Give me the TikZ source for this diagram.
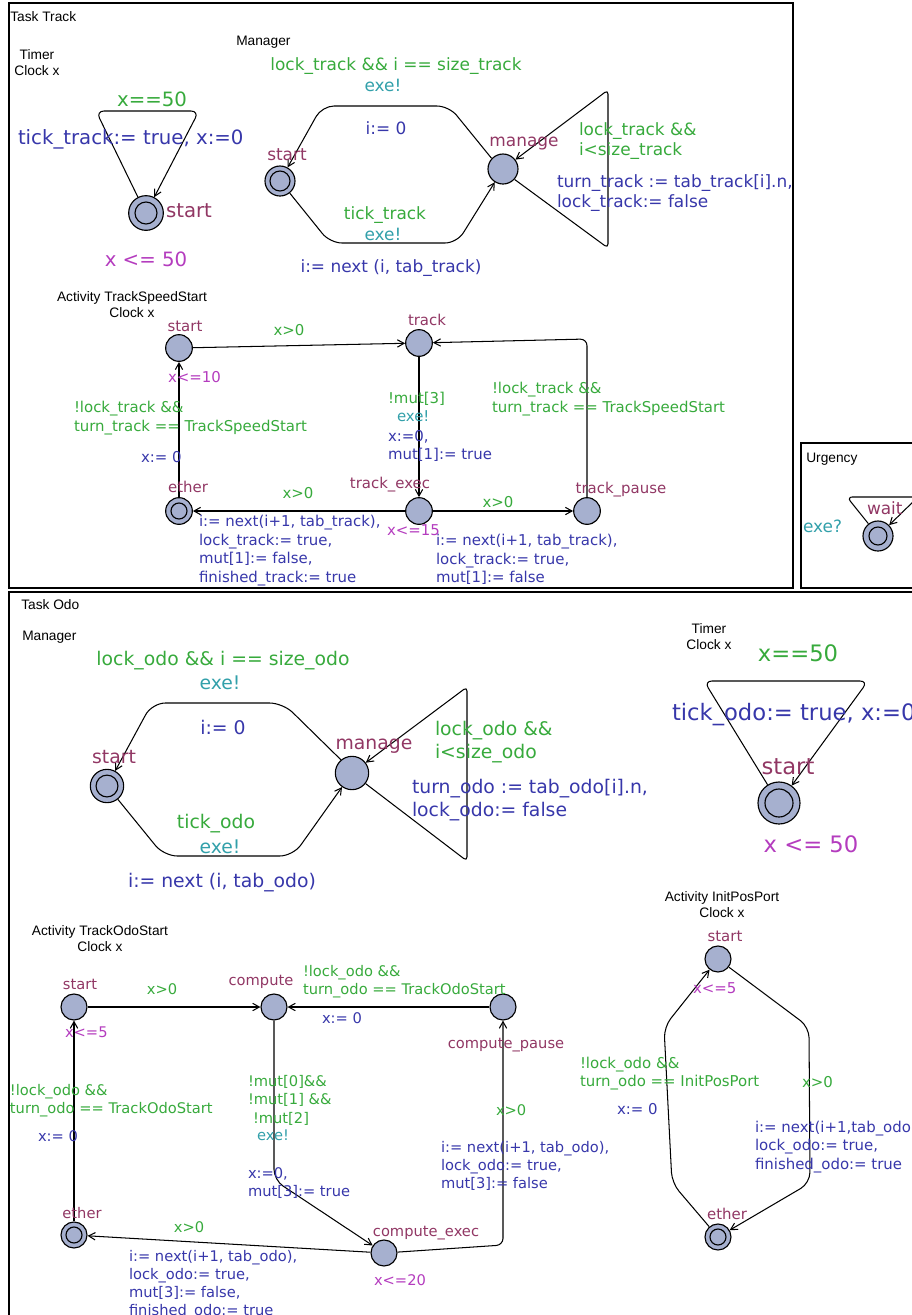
\documentclass[tikz,border=0pt]{standalone}
\usepackage{fontspec}
\setmainfont{DejaVu Sans}
\newfontfamily\tfont{Liberation Sans}
\usetikzlibrary{arrows.meta}
\definecolor{cloc}{RGB}{145,55,100}
\definecolor{cguard}{RGB}{55,170,60}
\definecolor{csync}{RGB}{50,160,170}
\definecolor{cupd}{RGB}{55,55,170}
\definecolor{cinv}{RGB}{180,60,190}
\definecolor{cnode}{RGB}{166,176,207}
\begin{document}
\begin{tikzpicture}[x=0.75pt,y=-0.75pt,
  frame/.style={draw=black, line width=1.4pt},
  ttl/.style={font=\tfont\fontsize{10.3}{12}\selectfont, inner sep=0pt, align=center},
  loc/.style={circle, draw=black, fill=cnode, line width=0.85pt, inner sep=0pt, minimum size=#1},
  inner/.style={draw=black, line width=0.85pt},
  conn/.style={draw=black, line width=0.78pt, -{Straight Barb[length=5pt,width=5.5pt]}},
  lbl/.style={inner sep=0pt, outer sep=0pt},
  nw/.style={lbl, anchor=north west, align=left},
  nc/.style={lbl, anchor=north, align=center},
  gd/.style={text=cguard}, sy/.style={text=csync}, up/.style={text=cupd},
  iv/.style={text=cinv}, ln/.style={text=cloc},
  fTT/.style={font=\fontsize{14.8}{18}\selectfont, yshift=5.9pt},
  fMT/.style={font=\fontsize{12.7}{15.5}\selectfont, yshift=5.1pt},
  fAT/.style={font=\fontsize{11.2}{14}\selectfont, yshift=4.5pt},
  fUR/.style={font=\fontsize{12.7}{15}\selectfont, yshift=5.1pt},
  fMO/.style={font=\fontsize{14.1}{17.25}\selectfont, yshift=5.6pt},
  fTO/.style={font=\fontsize{17}{20}\selectfont, yshift=6.8pt},
  fAO/.style={font=\fontsize{11}{13.6}\selectfont, yshift=4.4pt},
  fIP/.style={font=\fontsize{11.2}{13.9}\selectfont, yshift=4.5pt}
]
\useasboundingbox (0,0) rectangle (912,1315);
\clip (0,0) rectangle (912,1315);

% ---------- frames ----------
\draw[frame] (9,3) rectangle (793,588);
\draw[frame] (801,443) rectangle (930,588);
\draw[frame] (9,592) rectangle (930,1330);

% ---------- titles ----------
\node[ttl, anchor=west] (tTrack) at (10,17) {Task Track};
\node[ttl] (tTimer1) at (37,63) {Timer\\Clock x};
\node[ttl, anchor=west] (tMan1) at (236,42) {Manager};
\node[ttl] (tAct1) at (132,305) {Activity TrackSpeedStart\\Clock x};
\node[ttl, anchor=west] (tUrg) at (806,459) {Urgency};
\node[ttl, anchor=west] (tOdo) at (21,605) {Task Odo};
\node[ttl, anchor=west] (tMan2) at (22,637) {Manager};
\node[ttl] (tTimer2) at (709,637) {Timer\\Clock x};
\node[ttl] (tAct2) at (100,939) {Activity TrackOdoStart\\Clock x};
\node[ttl] (tAct3) at (722,905) {Activity InitPosPort\\Clock x};

% ---------- Task Track : Timer ----------
\node[loc=26pt] (tts) at (146,213) {};
\draw[inner] (tts.center) circle[radius=8.25pt];
\draw[conn, rounded corners=6pt] (tts.117) -- (96,111) -- (199,111) -- (tts);
\node[nc, fTT, gd] (ttg) at (152,100) {x==50};
\node[nw, fTT, up] (ttu) at (18,137) {tick\_track:= true, x:=0};
\node[nw, fTT, ln] (ttn) at (166,212) {start};
\node[nc, fTT, iv] (tti) at (146,260) {x <= 50};

% ---------- Task Track : Manager ----------
\node[loc=22.5pt] (mts) at (280,181) {};
\draw[inner] (mts.center) circle[radius=7.5pt];
\node[loc=22.5pt] (mtm) at (503,169) {};
\draw[conn, rounded corners=9pt] (mtm.137) -- (449,106) -- (322,106) -- (mts);
\draw[conn, rounded corners=9pt] (mts) -- (330,243) -- (457,243) -- (mtm);
\draw[conn, rounded corners=3pt] (mtm.-42) -- (608,248) -- (608,90) -- (mtm);
\node[nc, fMT, gd] (mtg1) at (396,64) {lock\_track \&\& i == size\_track};
\node[nc, fMT, sy] (mts1) at (383,86) {exe!};
\node[nc, fMT, up] (mtu1) at (386,128) {i:= 0};
\node[nc, fMT, ln] (mtn1) at (287,155) {start};
\node[nc, fMT, ln] (mtn2) at (524,144) {manage};
\node[nc, fMT, gd] (mtg2) at (385,213) {tick\_track};
\node[nc, fMT, sy] (mts2) at (383,235) {exe!};
\node[nc, fMT, up] (mtu2) at (391,266) {i:= next (i, tab\_track)};
\node[nw, fMT, gd] (mtg3) at (579,129) {lock\_track \&\&\\i<size\_track};
\node[nw, fMT, up] (mtu3) at (557,181) {turn\_track := tab\_track[i].n,\\lock\_track:= false};

% ---------- Task Track : Activity TrackSpeedStart ----------
\node[loc=20pt] (as) at (179,348) {};
\node[loc=20pt] (at) at (419,343) {};
\node[loc=20pt] (ax) at (419,511) {};
\node[loc=20pt] (ap) at (587,511) {};
\node[loc=20pt] (ae) at (179,511) {};
\draw[inner] (ae.center) circle[radius=6pt];
\draw[conn] (as) -- (at);
\draw[conn] (at) -- (ax);
\draw[conn] (ax) -- (ap);
\draw[conn, rounded corners=5pt] (ap) -- (587,339) -- (at);
\draw[conn] (ax) -- (ae);
\draw[conn] (ae) -- (as);
\node[nc, fAT, ln] (an1) at (185,327) {start};
\node[nc, fAT, ln] (an2) at (427,320) {track};
\node[nc, fAT, ln] (an3) at (188,487) {ether};
\node[nc, fAT, ln] (an4) at (390,483) {track\_exec};
\node[nc, fAT, ln] (an5) at (621,488) {track\_pause};
\node[nc, fAT, gd] (ag1) at (289,330) {x>0};
\node[nw, fAT, gd] (ag2) at (388,398) {!mut[3]};
\node[nw, fAT, sy] (as2) at (397,417) {exe!};
\node[nw, fAT, up] (au2) at (388,436) {x:=0,\\mut[1]:= true};
\node[nc, fAT, gd] (ag3) at (498,502) {x>0};
\node[nw, fAT, up] (au3) at (436,540) {i:= next(i+1, tab\_track),\\lock\_track:= true,\\mut[1]:= false};
\node[nw, fAT, gd] (ag4) at (492,388) {!lock\_track \&\&\\turn\_track == TrackSpeedStart};
\node[nc, fAT, gd] (ag5) at (298,493) {x>0};
\node[nw, fAT, up] (au5) at (199,521) {i:= next(i+1, tab\_track),\\lock\_track:= true,\\mut[1]:= false,\\finished\_track:= true};
\node[nw, fAT, gd] (ag6) at (74,407) {!lock\_track \&\&\\turn\_track == TrackSpeedStart};
\node[nw, fAT, up] (au6) at (141,457) {x:= 0};
\node[nw, fAT, iv] (ai1) at (168,377) {x<=10};
\node[nw, fAT, iv] (ai2) at (387,531) {x<=15};

% ---------- Urgency ----------
\node[loc=22.5pt] (uw) at (878,536) {};
\draw[inner] (uw.center) circle[radius=6.75pt];
\draw[conn, rounded corners=4pt] (uw.128) -- (847,497) -- (918,497) -- (uw);
\node[nw, fUR, ln] (un) at (867,508) {wait};
\node[nw, fUR, sy] (us) at (803,527) {exe?};

% ---------- Task Odo : Manager ----------
\node[loc=25pt] (mos) at (107,786) {};
\draw[inner] (mos.center) circle[radius=8.2pt];
\node[loc=25pt] (mom) at (352,773) {};
\draw[conn, rounded corners=10pt] (mom.130) -- (283,703) -- (152,703) -- (mos);
\draw[conn, rounded corners=10pt] (mos) -- (164,856) -- (293,856) -- (mom);
\draw[conn, rounded corners=3pt] (mom.-38) -- (467,861) -- (467,687) -- (mom);
\node[nc, fMO, gd] (mog1) at (223,659) {lock\_odo \&\& i == size\_odo};
\node[nc, fMO, sy] (mos1) at (220,683) {exe!};
\node[nc, fMO, up] (mou1) at (223,728) {i:= 0};
\node[nc, fMO, ln] (mon1) at (114,758) {start};
\node[nc, fMO, ln] (mon2) at (374,746) {manage};
\node[nc, fMO, gd] (mog2) at (216,822) {tick\_odo};
\node[nc, fMO, sy] (mos2) at (220,847) {exe!};
\node[nc, fMO, up] (mou2) at (222,881) {i:= next (i, tab\_odo)};
\node[nw, fMO, gd] (mog3) at (435,729) {lock\_odo \&\&\\i<size\_odo};
\node[nw, fMO, up] (mou3) at (412,787) {turn\_odo := tab\_odo[i].n,\\lock\_odo:= false};

% ---------- Task Odo : Timer ----------
\node[loc=31.5pt] (tos) at (779,803) {};
\draw[inner] (tos.center) circle[radius=10.5pt];
\draw[conn, rounded corners=6pt] (tos.122) -- (704,681) -- (868,681) -- (tos);
\node[nc, fTO, gd] (tog) at (798,654) {x==50};
\node[nw, fTO, up] (tou) at (672,712) {tick\_odo:= true, x:=0};
\node[nc, fTO, ln] (ton) at (788,768) {start};
\node[nc, fTO, iv] (toi) at (811,845) {x <= 50};

% ---------- Task Odo : Activity TrackOdoStart ----------
\node[loc=19.5pt] (os) at (74,1007) {};
\node[loc=19.5pt] (oc) at (274,1007) {};
\node[loc=19.5pt] (op) at (503,1007) {};
\node[loc=19.5pt] (ox) at (384,1253) {};
\node[loc=19.5pt] (oe) at (74,1235) {};
\draw[inner] (oe.center) circle[radius=6pt];
\draw[conn] (os) -- (oc);
\draw[conn] (op) -- (oc);
\draw[conn, rounded corners=8pt] (oc) -- (274,1180) -- (ox);
\draw[conn, rounded corners=5pt] (ox) -- (503,1245) -- (op);
\draw[conn] (ox) -- (oe);
\draw[conn] (oe) -- (os);
\node[nc, fAO, ln] (on1) at (80,985) {start};
\node[nc, fAO, ln] (on2) at (261,981) {compute};
\node[nc, fAO, ln] (on3) at (506,1044) {compute\_pause};
\node[nc, fAO, ln] (on4) at (426,1232) {compute\_exec};
\node[nc, fAO, ln] (on5) at (82,1213) {ether};
\node[nc, fAO, gd] (og1) at (162,989) {x>0};
\node[nw, fAO, gd] (og2) at (303,971) {!lock\_odo \&\&\\turn\_odo == TrackOdoStart};
\node[nw, fAO, up] (ou2) at (322,1018) {x:= 0};
\node[nw, fAO, gd] (og3) at (248,1081) {!mut[0]\&\&\\!mut[1] \&\&};
\node[nw, fAO, gd] (og3b) at (253,1118) {!mut[2]};
\node[nw, fAO, sy] (os3) at (257,1136) {exe!};
\node[nw, fAO, up] (ou3) at (248,1173) {x:=0,\\mut[3]:= true};
\node[nw, fAO, gd] (og4) at (496,1110) {x>0};
\node[nw, fAO, up] (ou4) at (441,1147) {i:= next(i+1, tab\_odo),\\lock\_odo:= true,\\mut[3]:= false};
\node[nc, fAO, gd] (og5) at (189,1227) {x>0};
\node[nw, fAO, up] (ou5) at (129,1256) {i:= next(i+1, tab\_odo),\\lock\_odo:= true,\\mut[3]:= false,\\finished\_odo:= true};
\node[nw, fAO, gd] (og6) at (10,1090) {!lock\_odo \&\&\\turn\_odo == TrackOdoStart};
\node[nw, fAO, up] (ou6) at (38,1136) {x:= 0};
\node[nw, fAO, iv] (oi1) at (65,1033) {x<=5};
\node[nw, fAO, iv] (oi2) at (374,1280) {x<=20};

% ---------- Task Odo : Activity InitPosPort ----------
\node[loc=19.5pt] (is) at (718,959) {};
\node[loc=19.5pt] (ie) at (718,1237) {};
\draw[inner] (ie.center) circle[radius=6pt];
\draw[conn, rounded corners=8pt] (is) -- (809,1027) -- (810,1183) -- (ie);
\draw[conn, rounded corners=8pt] (ie) -- (672,1183) -- (664,1027) -- (is);
\node[nc, fIP, ln] (in1) at (725,937) {start};
\node[nc, fIP, ln] (in2) at (727,1214) {ether};
\node[nw, fIP, iv] (ii1) at (693,989) {x<=5};
\node[nw, fIP, gd] (ig1) at (580,1063) {!lock\_odo \&\&\\turn\_odo == InitPosPort};
\node[nw, fIP, up] (iu1) at (617,1109) {x:= 0};
\node[nw, fIP, gd] (ig2) at (802,1082) {x>0};
\node[nw, fIP, up] (iu2) at (755,1127) {i:= next(i+1,tab\_odo)\\lock\_odo:= true,\\finished\_odo:= true};
\end{tikzpicture}
\end{document}
